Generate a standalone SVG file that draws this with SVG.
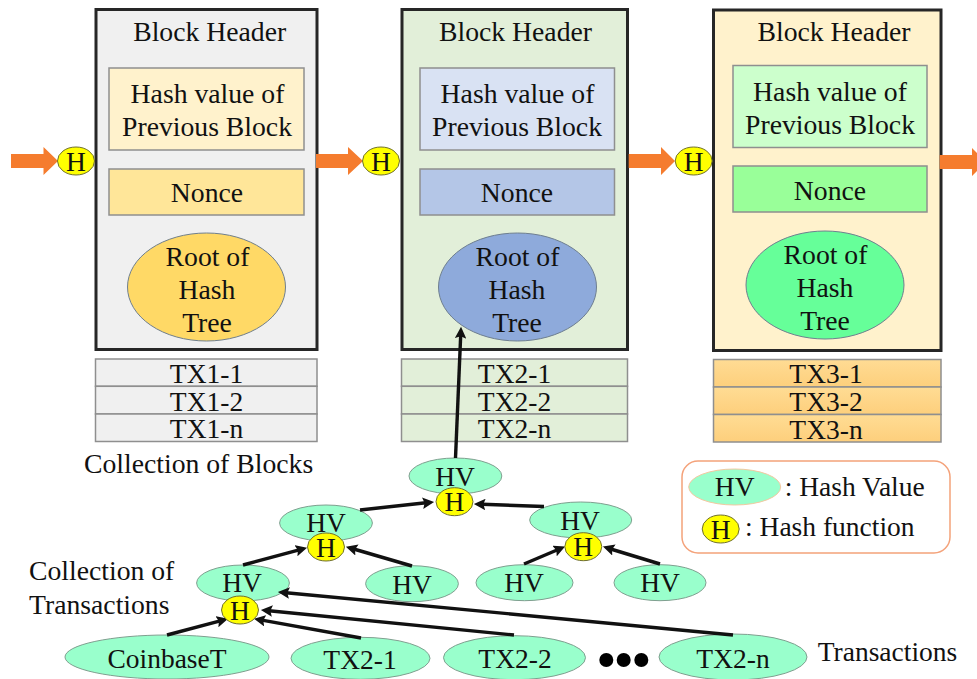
<svg xmlns="http://www.w3.org/2000/svg" width="977" height="679" viewBox="0 0 977 679">
<style>
text{font-family:"Liberation Serif","Times New Roman",serif;font-size:27.5px;fill:#111;text-anchor:middle}
.l{text-anchor:start}
.b text,text.b{font-size:27.7px}
.blk{stroke:#262626;stroke-width:3}
.box{stroke:#8f8f8f;stroke-width:1.5}
.hv{fill:#99ffcc;stroke:#7f9f8f;stroke-width:1}
.h{fill:#ffff00;stroke:#6f6f2f;stroke-width:1}
.e{stroke:#6f7f8f;stroke-width:1}
.a{stroke:#111;stroke-width:3.4;fill:none;marker-end:url(#ah)}
.o{fill:#f57c2e}
</style>
<defs>
<marker id="ah" markerUnits="strokeWidth" markerWidth="3.6" markerHeight="3.4" refX="1" refY="1.7" orient="auto">
<path d="M0,0 L3.4,1.7 L0,3.4 L.6,1.7 Z" fill="#111"/>
</marker>
<linearGradient id="txo" x1="0" y1="0" x2="0" y2="1"><stop offset="0" stop-color="#ffdc94"/><stop offset="1" stop-color="#fdcf7c"/></linearGradient>
</defs>

<g id="block1" class="b">
<rect class="blk" x="96" y="9.500" width="221" height="340" fill="#f0f0f0"/>
<text x="209.700" y="41">Block Header</text>
<rect class="box" x="109" y="68" width="195" height="82" fill="#fff2cc"/>
<text x="207.500" y="103">Hash value of</text><text x="207" y="136">Previous Block</text>
<rect class="box" x="109" y="169" width="195" height="46" fill="#ffe699"/>
<text x="207" y="202">Nonce</text>
<ellipse class="e" cx="206.500" cy="287" rx="79" ry="54" fill="#ffd966"/>
<text x="207.500" y="266">Root of</text><text x="207" y="299">Hash</text><text x="207" y="332">Tree</text>
</g>
<g id="tx1">
<rect class="box" x="95.500" y="359" width="221.500" height="27.300" fill="#f0f0f0"/>
<rect class="box" x="95.500" y="386.300" width="221.500" height="27.700" fill="#f0f0f0"/>
<rect class="box" x="95.500" y="414" width="221.500" height="27.500" fill="#f0f0f0"/>
<text x="206.500" y="382.500">TX1-1</text><text x="206.500" y="410.500">TX1-2</text><text x="206.500" y="438">TX1-n</text>
</g>
<text id="label-blocks" class="l b" x="84" y="472.500">Collection of Blocks</text>

<g id="block2" class="b">
<rect class="blk" x="402" y="9.500" width="225.500" height="340" fill="#e2efd9"/>
<text x="515.500" y="41">Block Header</text>
<rect class="box" x="420" y="68" width="194.500" height="82" fill="#d9e2f3"/>
<text x="517.500" y="103">Hash value of</text><text x="517" y="136">Previous Block</text>
<rect class="box" x="420" y="169" width="194.500" height="46" fill="#b4c6e7"/>
<text x="517" y="202">Nonce</text>
<ellipse class="e" cx="517.500" cy="287" rx="79" ry="54" fill="#8eaadb"/>
<text x="517.500" y="266">Root of</text><text x="517" y="299">Hash</text><text x="517" y="332">Tree</text>
</g>
<g id="tx2">
<rect class="box" x="401.500" y="359" width="226" height="27.300" fill="#e2efd9"/>
<rect class="box" x="401.500" y="386.300" width="226" height="27.700" fill="#e2efd9"/>
<rect class="box" x="401.500" y="414" width="226" height="27.500" fill="#e2efd9"/>
<text x="514.500" y="382.500">TX2-1</text><text x="514.500" y="410.500">TX2-2</text><text x="514.500" y="438">TX2-n</text>
</g>

<g id="block3" class="b">
<rect class="blk" x="713.500" y="10" width="227.500" height="340.500" fill="#fff2cc"/>
<text x="834" y="41">Block Header</text>
<rect class="box" x="733" y="65.500" width="194" height="82" fill="#ccffcc"/>
<text x="830" y="100.500">Hash value of</text><text x="830" y="133.500">Previous Block</text>
<rect class="box" x="733" y="166" width="194" height="46" fill="#99ff99"/>
<text x="830" y="200">Nonce</text>
<ellipse class="e" cx="825" cy="285" rx="79" ry="54" fill="#66ff99"/>
<text x="825.500" y="263.500">Root of</text><text x="825" y="296.500">Hash</text><text x="825" y="329.500">Tree</text>
</g>
<g id="tx3">
<rect class="box" x="713.500" y="359.500" width="227.500" height="27.500" fill="url(#txo)"/>
<rect class="box" x="713.500" y="387" width="227.500" height="27.500" fill="url(#txo)"/>
<rect class="box" x="713.500" y="414.500" width="227.500" height="27.500" fill="url(#txo)"/>
<text x="826" y="383">TX3-1</text><text x="826" y="411">TX3-2</text><text x="826" y="438.500">TX3-n</text>
</g>

<g id="legend">
<rect x="682" y="461" width="268" height="92" rx="16" fill="#fff" stroke="#f4a27a" stroke-width="1.500"/>
<ellipse cx="734.700" cy="487" rx="46" ry="18" fill="#99ffcc" stroke="#f4c8a0" stroke-width="1"/>
<text x="734.700" y="496">HV</text>
<text class="l" x="784.700" y="496">: Hash Value</text>
<ellipse class="h" cx="720.700" cy="529" rx="18.500" ry="14"/>
<text x="720.700" y="538.500">H</text>
<text class="l" x="745" y="535.500">: Hash function</text>
</g>

<g id="tree-hv">
<g id="hv-top"><ellipse class="hv" cx="455.400" cy="476" rx="46.400" ry="18"/><text x="455" y="486">HV</text></g>
<g id="hv-l2"><ellipse class="hv" cx="326" cy="523" rx="46.400" ry="18"/><text x="326" y="532">HV</text></g>
<g id="hv-r2"><ellipse class="hv" cx="580.700" cy="520" rx="51" ry="18"/><text x="580" y="529.500">HV</text></g>
<g id="hv-l3"><ellipse class="hv" cx="243" cy="583" rx="46.400" ry="18"/><text x="242" y="592">HV</text></g>
<g id="hv-m3"><ellipse class="hv" cx="412" cy="583.700" rx="46.400" ry="18"/><text x="412" y="594">HV</text></g>
<g id="hv-r3a"><ellipse class="hv" cx="524.500" cy="582.700" rx="48.500" ry="18"/><text x="524" y="592">HV</text></g>
<g id="hv-r3b"><ellipse class="hv" cx="660" cy="582.700" rx="46" ry="18"/><text x="660" y="592">HV</text></g>
</g>
<g id="transactions">
<g id="t-coinbase"><ellipse class="hv" cx="167" cy="657" rx="102" ry="22"/><text x="167" y="668">CoinbaseT</text></g>
<g id="t-1"><ellipse class="hv" cx="360.500" cy="658.300" rx="69.500" ry="21"/><text x="360" y="669">TX2-1</text></g>
<g id="t-2"><ellipse class="hv" cx="514.500" cy="657.700" rx="71" ry="22"/><text x="515" y="668">TX2-2</text></g>
<g id="t-n"><ellipse class="hv" cx="733" cy="657" rx="74" ry="23"/><text x="733" y="668">TX2-n</text></g>
<g id="dots" fill="#000"><circle cx="606.300" cy="660" r="7"/><circle cx="623.700" cy="660" r="7"/><circle cx="641.300" cy="660" r="7"/></g>
</g>
<text class="l b" x="29" y="580">Collection of</text>
<text class="l b" x="29" y="613.500">Transactions</text>
<text class="l" x="817.700" y="661">Transactions</text>

<g id="connectors">
<path class="o" d="M11,154H43.500V147L58,161L43.500,175V168H11Z"/>
<path class="o" d="M316,154H348V147L363,161L348,175V168H316Z"/>
<path class="o" d="M628.700,154H661V147L675,161L661,175V168H628.700Z"/>
<path class="o" d="M939.700,155H972V148L986,162L972,176V169H939.700Z"/>
<path class="a" d="M455.500,458L460.700,335"/>
<path class="a" d="M360,510L426,502.800"/>
<path class="a" d="M544,506.500L482,504.300"/>
<path class="a" d="M243,565L299.200,549.800"/>
<path class="a" d="M412,566L353.700,549"/>
<path class="a" d="M167,635L220.200,620.800"/>
<path class="a" d="M361,638L261.900,620.200"/>
<path class="a" d="M514,635L269,610.700"/>
<path class="a" d="M733,635L286,592.700"/>
<path class="a" d="M524,564L557.600,549.700"/>
<path class="a" d="M660,564L610.700,549"/>
</g>

<g id="hash-functions">
<g id="h-a"><ellipse class="h" cx="76" cy="161" rx="18.500" ry="14"/><text x="76" y="170.500">H</text></g>
<g id="h-b"><ellipse class="h" cx="381" cy="161" rx="18.500" ry="14"/><text x="381" y="170.500">H</text></g>
<g id="h-c"><ellipse class="h" cx="693.700" cy="161" rx="18.500" ry="14"/><text x="693.700" y="170.500">H</text></g>
<g id="h-top"><ellipse class="h" cx="454.500" cy="501.700" rx="18.500" ry="14"/><text x="454.500" y="511">H</text></g>
<g id="h-l2"><ellipse class="h" cx="326" cy="547" rx="18.500" ry="14"/><text x="326" y="556.500">H</text></g>
<g id="h-r2"><ellipse class="h" cx="583.300" cy="546.700" rx="18.500" ry="14"/><text x="583.300" y="556">H</text></g>
<g id="h-l3"><ellipse class="h" cx="240" cy="610" rx="18.500" ry="14"/><text x="240" y="619.500">H</text></g>
</g>
</svg>
